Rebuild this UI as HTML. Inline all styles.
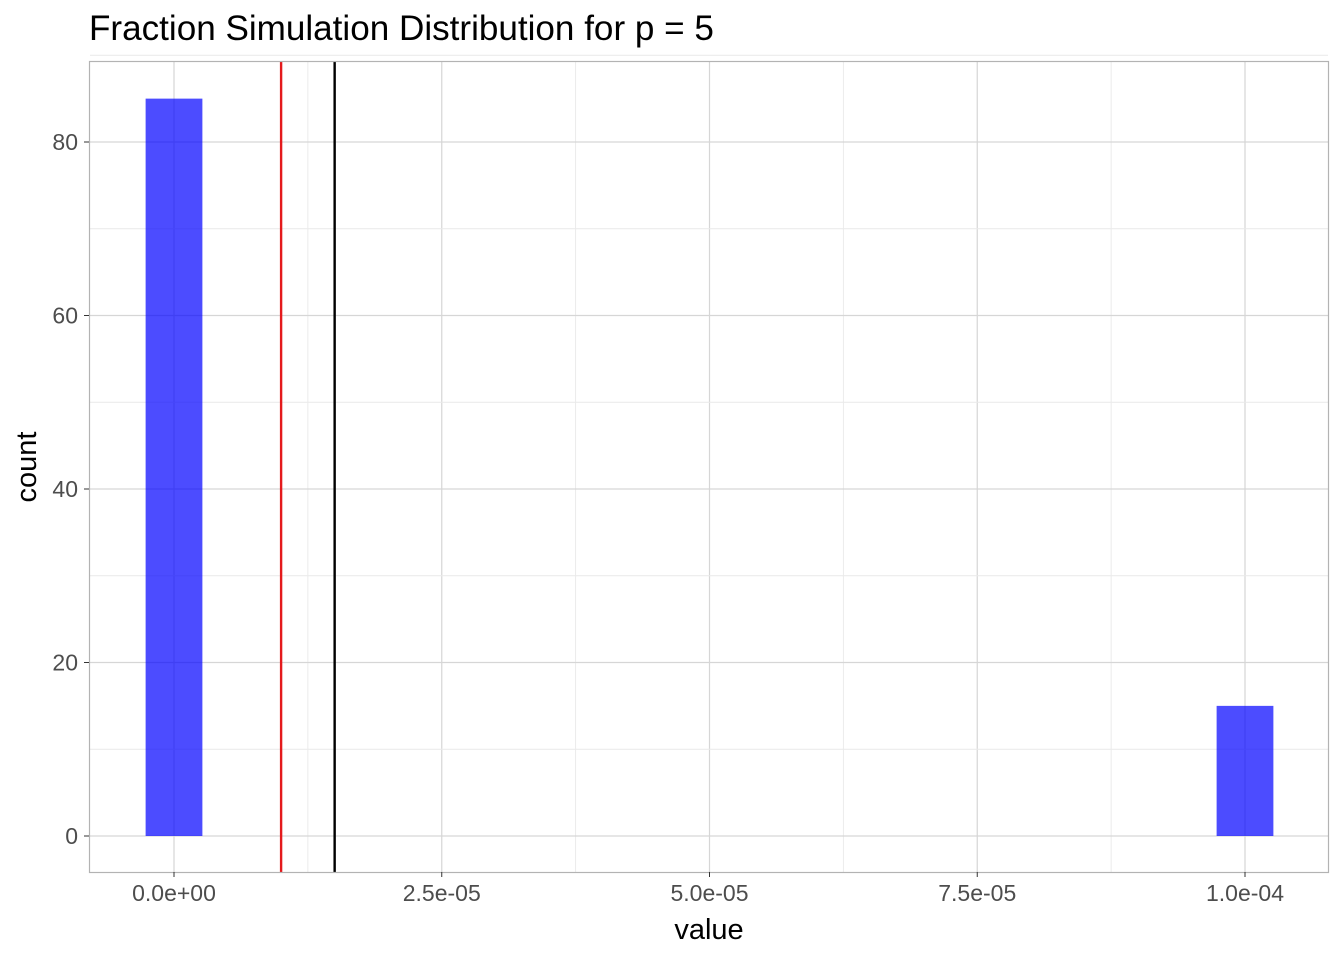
<!DOCTYPE html>
<html><head><meta charset="utf-8"><style>
body{margin:0;background:#fff;font-family:"Liberation Sans",Arial,sans-serif}
</style></head><body>
<svg width="1344" height="960" xmlns="http://www.w3.org/2000/svg" id="chart">
<text x="89" y="40" font-size="35.1" fill="#000">Fraction Simulation Distribution for p = 5</text>
<g id="grid"></g>
<g id="bars"></g>
<g id="vlines"></g>
<rect x="89.5" y="61.5" width="1239" height="811" fill="none" stroke="#b3b3b3" stroke-width="1.2"/>
<g id="axes"></g>
<text x="709" y="939" font-size="29" text-anchor="middle" fill="#000">value</text>
<text transform="translate(36,467) rotate(-90)" font-size="29" text-anchor="middle" fill="#000">count</text>
</svg>
<script>
const binCenters=[0,0.0001];
const counts=[85,15];
const binWidth=0.0000053;
const refLines=[0.00001,0.000015];
const refColors=['#e41a1c','#000000'];
const xTicks=[0,0.000025,0.00005,0.000075,0.0001];
const xTickLabels=['0.0e+00','2.5e-05','5.0e-05','7.5e-05','1.0e-04'];
const yTicks=[0,20,40,60,80];
const NS='http://www.w3.org/2000/svg';
const X=v=>174+v*1071e4;
const Y=v=>836-v*8.675;
function mk(t,a,p){const e=document.createElementNS(NS,t);for(const k in a)e.setAttribute(k,a[k]);document.getElementById(p).appendChild(e);return e;}
for(let i=0;i<xTicks.length;i++){
 const l=mk('line',{x1:X(xTicks[i]),x2:X(xTicks[i]),y1:62,y2:872,stroke:'#d6d6d6','stroke-width':1.2},'grid');
 
 if(i<xTicks.length-1){const m=(xTicks[i]+xTicks[i+1])/2;
  const g=mk('line',{x1:X(m),x2:X(m),y1:62,y2:872,stroke:'#e9e9e9','stroke-width':0.9},'grid');
  }
 const t=mk('line',{x1:X(xTicks[i]),x2:X(xTicks[i]),y1:872,y2:877,stroke:'#333','stroke-width':1},'axes');
 
 const tx=mk('text',{x:X(xTicks[i]),y:901,'font-size':23,'text-anchor':'middle',fill:'#4d4d4d'},'axes');
 tx.textContent=xTickLabels[i];
 
}
for(let i=0;i<yTicks.length;i++){
 const l=mk('line',{x1:90,x2:1328,y1:Y(yTicks[i]),y2:Y(yTicks[i]),stroke:'#d6d6d6','stroke-width':1.2},'grid');
 
 const m=yTicks[i]+10;
 const g=mk('line',{x1:90,x2:1328,y1:Y(m),y2:Y(m),stroke:'#e9e9e9','stroke-width':0.9},'grid');
 
 const t=mk('line',{x1:84,x2:89,y1:Y(yTicks[i]),y2:Y(yTicks[i]),stroke:'#333','stroke-width':1},'axes');
 
 const tx=mk('text',{x:78,y:Y(yTicks[i])+8,'font-size':23,'text-anchor':'end',fill:'#4d4d4d'},'axes');
 tx.textContent=String(yTicks[i]);
 
}
for(let i=0;i<binCenters.length;i++){
 const x0=X(binCenters[i]-binWidth/2),x1=X(binCenters[i]+binWidth/2);
 const r=mk('rect',{x:x0,y:Y(counts[i]),width:x1-x0,height:Y(0)-Y(counts[i]),fill:'#0000ff','fill-opacity':0.7},'bars');
 
}
for(let i=0;i<refLines.length;i++){
 const l=mk('line',{x1:X(refLines[i]),x2:X(refLines[i]),y1:62,y2:872,stroke:refColors[i],'stroke-width':2.4},'vlines');
 
}
</script>
</body></html>
